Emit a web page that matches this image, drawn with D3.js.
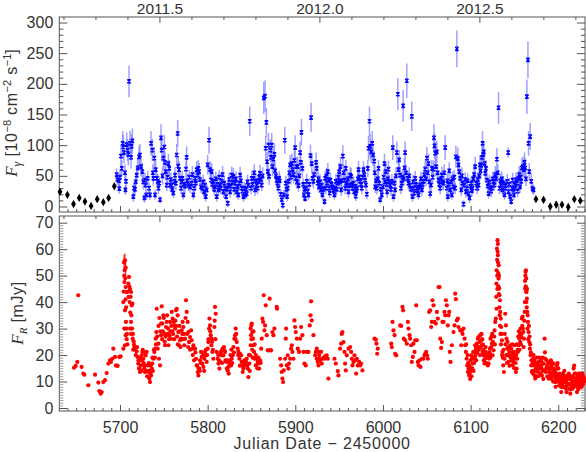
<!DOCTYPE html>
<html>
<head>
<meta charset="utf-8">
<script src="https://cdn.jsdelivr.net/npm/d3@7"></script>
<style>
  body { margin: 0; background: #fff; }
  svg { display: block; }
</style>
</head>
<body>
<svg id="chart" width="586" height="452"></svg>
<script>
// --- data ---
// weekly LAT points, black diamonds: [JD-2450000, flux, err]
const weeklyPoints = [
  [5631.5,24,4],[5640,19,4],[5647,4,3],[5653.5,14,4],[5660,8,3],[5667,1,4],[5674,12,4],[5681,7,4],[5687,14,4],[5693.5,33,5],
  [6174.5,12,3],[6183.2,11,3],[6190.9,0,5],[6197.7,3,6],[6204.2,3,4],[6211.4,-1,6],[6218.3,12,3],[6225.1,9.5,3]
];

// daily LAT points, blue crosses: [JD-2450000, flux (1e-8 cm-2 s-1), err]
const gammaPoints = [
  [5696.2,52,10],[5697,44,10],[5698.9,42,10],[5699.2,29,8],[5700,48,12],[5701.1,82,18],[5702,62,14],[5703,103,20],[5703.8,97,20],[5704.5,88,18],
  [5705.7,55,14],[5706.2,27,8],[5706.8,41,12],[5707.6,101,20],[5708.7,92,18],[5709.5,85,18],[5710.3,204,26],[5711.4,103,20],[5712.6,80,18],[5713.2,98,20],
  [5714.1,107,20],[5715.2,16,8],[5716,30,10],[5717.1,28,10],[5717.9,40,12],[5719,51,14],[5720.2,63,16],[5721.7,81,18],[5722.8,84,18],[5724,65,16],
  [5725.5,57,14],[5726.6,40,12],[5727.8,14,8],[5728.5,43,12],[5729.3,35,10],[5730.1,19,8],[5731.6,46,12],[5733.1,30,10],[5734.2,19,8],[5735.4,103,20],
  [5736.9,92,18],[5737.5,55,14],[5738.1,46,12],[5739.2,79,18],[5740,19,8],[5740.7,60,14],[5741.9,46,12],[5743,41,12],[5743.8,30,10],[5744.8,38,12],
  [5745.7,11,6],[5746.8,112,22],[5747.6,92,18],[5748.5,50,14],[5749.5,79,18],[5750.6,97,20],[5751.4,72,16],[5752.1,57,14],[5753.3,35,10],[5754.2,48,12],
  [5755.2,70,16],[5756.3,62,14],[5757.1,35,10],[5758,44,12],[5759,35,10],[5759.7,27,10],[5760.9,22,8],[5762,41,12],[5762.8,51,14],[5763.8,38,12],
  [5764.7,84,18],[5765.8,119,22],[5766.5,66,16],[5767.3,60,14],[5768.5,46,12],[5769.6,30,10],[5770.4,40,12],[5771.2,46,12],[5772.3,19,8],[5773.2,36,10],
  [5774.2,33,10],[5775.3,61,14],[5776,80,18],[5776.6,42,12],[5778,35,10],[5779,48,12],[5780,32,10],[5781.8,38,12],[5782.6,52,14],[5783.7,19,8],
  [5784.5,30,10],[5785.6,46,12],[5786.4,38,12],[5787.5,60,14],[5788.7,51,14],[5789.4,62,14],[5790.2,57,14],[5791.3,44,12],[5792.5,32,10],[5794,30,10],
  [5795,40,12],[5795.9,24,10],[5797,35,10],[5797.8,16,8],[5798.9,27,10],[5800,68,16],[5801.6,108,22],[5802.7,60,14],[5803.9,43,12],[5804.6,57,14],
  [5805.5,36,10],[5806.5,41,12],[5807.5,28,10],[5808.4,32,10],[5809.3,45,12],[5810.3,16,8],[5811.2,36,10],[5812.3,27,10],[5813.2,48,12],[5814.2,35,10],
  [5815,30,10],[5816,41,12],[5817,52,14],[5818,24,10],[5819,38,12],[5819.9,30,10],[5821,16,8],[5822,28,10],[5822.9,5,6],[5823.7,35,10],
  [5824.6,44,12],[5825.6,24,10],[5826.5,33,10],[5827.5,51,14],[5828.4,40,12],[5829.4,49,14],[5830.3,28,10],[5831.3,38,12],[5832.2,45,12],[5833.2,24,10],
  [5834.2,32,10],[5835.1,19,8],[5836,38,12],[5837,51,14],[5838,42,12],[5838.9,30,10],[5839.8,25,10],[5840.8,16,8],[5841.8,30,10],[5842.7,19,8],
  [5843.6,28,10],[5844.6,21,8],[5845.5,40,12],[5846.5,35,10],[5848,139,24],[5849.5,30,10],[5850.3,46,12],[5851.2,36,10],[5852.2,46,12],[5853.2,55,14],
  [5854.1,27,10],[5855,42,12],[5856,35,10],[5857,30,10],[5857.9,41,12],[5858.8,48,12],[5859.8,54,14],[5860.7,44,12],[5861.7,35,10],[5862.7,50,14],
  [5864,177,26],[5865.5,180,26],[5866.2,95,20],[5867,137,24],[5867.8,73,16],[5868.6,57,14],[5869.4,100,20],[5870.1,49,14],[5871.6,92,18],[5872.3,80,18],
  [5873.1,100,20],[5874,65,16],[5875,77,18],[5876.2,85,18],[5876.9,58,14],[5877.8,50,14],[5878.8,43,12],[5879.7,38,12],[5880.7,30,10],[5881.5,46,12],
  [5882.3,42,12],[5883.4,20,8],[5884.5,11,6],[5885.7,2,6],[5886.8,19,8],[5888,108,22],[5889.1,38,12],[5889.9,28,10],[5890.6,16,8],[5891.4,30,10],
  [5892.2,41,12],[5893.2,55,14],[5894.1,68,16],[5895,48,12],[5896,70,16],[5897,60,14],[5897.9,52,14],[5898.9,75,16],[5899.8,96,20],[5900.6,46,12],
  [5901.3,65,16],[5902.1,40,12],[5902.8,65,16],[5903.7,34,10],[5904.6,50,14],[5905.5,88,18],[5906.2,72,16],[5907,121,22],[5908.1,62,14],[5909,36,10],
  [5909.7,19,8],[5910.5,28,10],[5911.2,13,6],[5912.2,30,10],[5913.1,41,12],[5914,25,10],[5915,19,8],[5916,36,10],[5917.3,83,18],[5918,145,24],
  [5918.8,70,16],[5919.6,46,12],[5920.7,41,12],[5921.6,52,14],[5923.7,72,16],[5924.5,62,14],[5925.6,38,12],[5926.4,45,12],[5927.2,32,10],[5928.3,40,12],
  [5929.4,27,10],[5930.2,35,10],[5931,19,8],[5932,28,10],[5933.3,8,6],[5934,46,12],[5934.8,30,10],[5935.5,49,14],[5936.3,38,12],[5937.1,57,14],
  [5937.8,44,12],[5938.6,30,10],[5939.3,22,8],[5940.1,43,12],[5941.2,36,10],[5942.4,32,10],[5943.5,26,10],[5944.7,19,8],[5945.4,30,10],[5946.2,41,12],
  [5947.3,28,10],[5948.5,38,12],[5949.2,48,12],[5950,57,14],[5950.8,40,12],[5951.5,65,16],[5952.3,27,10],[5953,42,12],[5954.2,82,18],[5955.1,55,14],
  [5956.1,43,12],[5956.9,30,10],[5957.6,62,14],[5958.3,38,12],[5959.1,35,10],[5960,45,12],[5960.7,24,10],[5961.6,34,10],[5962.6,51,14],[5963.7,49,14],
  [5964.4,36,10],[5965.2,30,10],[5966.4,38,12],[5967.5,24,10],[5968.2,33,10],[5969,17,8],[5969.8,26,10],[5970.5,30,10],[5971.3,45,12],[5972.1,60,14],
  [5973,48,12],[5974,41,12],[5975,36,10],[5975.9,30,10],[5976.8,48,12],[5977.8,60,14],[5978.7,52,14],[5979.7,43,12],[5980.6,35,10],[5981.6,20,8],
  [5982.7,62,14],[5983.5,95,20],[5984.6,139,24],[5985.4,98,20],[5986.5,89,18],[5987.7,103,20],[5988.8,84,18],[5990,74,16],[5990.6,55,14],[5991.1,32,10],
  [5992,42,12],[5993,30,10],[5994,45,12],[5994.9,62,14],[5995.8,38,12],[5996.8,11,6],[5997.7,28,10],[5998.7,19,8],[5999.8,32,10],[6000.7,48,12],
  [6001.7,70,16],[6002.5,40,12],[6003.3,57,14],[6004.1,36,10],[6004.8,24,10],[6005.6,45,12],[6006.3,61,14],[6007.2,40,12],[6008.2,35,10],[6009.2,28,10],
  [6010.1,41,12],[6011.2,96,20],[6012,16,8],[6012.9,38,12],[6013.9,27,10],[6014.8,50,14],[6015.8,88,18],[6017,183,26],[6017.7,60,14],[6018.5,76,16],
  [6019.6,51,14],[6020.5,30,10],[6021.5,38,12],[6022.3,48,12],[6023,164,26],[6023.8,45,12],[6024.6,63,16],[6025.3,88,18],[6026.3,55,14],[6027.2,205,28],
  [6028.4,46,12],[6029.1,38,12],[6030,50,14],[6031,35,10],[6032,28,10],[6032.9,147,24],[6033.7,16,8],[6034.5,40,12],[6035.2,30,10],[6036,22,8],
  [6036.8,46,12],[6037.7,36,10],[6038.7,30,10],[6039.6,26,10],[6040.6,19,8],[6041.5,32,10],[6042.5,35,10],[6043.4,45,12],[6044.4,27,10],[6045.3,36,10],
  [6046.3,41,12],[6047.2,52,14],[6048.2,61,14],[6049.1,45,12],[6050.1,79,18],[6051,55,14],[6052,70,16],[6053,40,12],[6053.9,21,8],[6054.8,35,10],
  [6055.8,62,14],[6056.7,48,12],[6057.7,61,14],[6058.2,112,22],[6058.8,99,20],[6059.6,87,18],[6060.5,65,16],[6061.5,89,18],[6062.4,55,14],[6063.4,43,12],
  [6064.3,36,10],[6065.3,30,10],[6066.2,45,12],[6067.2,51,14],[6068.1,40,12],[6069.1,38,12],[6070,55,14],[6071,96,20],[6072.9,30,10],[6073.5,42,12],
  [6074,16,8],[6074.8,36,10],[6075.6,58,14],[6076.7,27,10],[6077.6,40,12],[6078.6,19,8],[6079.5,45,12],[6080.5,32,10],[6081.4,48,12],[6082.4,30,10],
  [6083.2,81,18],[6084.3,257,30],[6085.5,78,18],[6086.2,68,16],[6087,57,14],[6088.1,46,12],[6089.3,27,10],[6090,50,14],[6090.8,38,12],[6091.9,4,6],
  [6093,35,10],[6093.8,44,12],[6094.6,24,10],[6095.7,30,10],[6096.6,42,12],[6097.6,21,8],[6098.8,14,8],[6099.7,33,10],[6100.7,38,12],[6101.4,26,10],
  [6102.2,30,10],[6103.1,45,12],[6104.1,52,14],[6105.2,65,16],[6106.4,38,12],[6107.5,30,10],[6108.2,44,12],[6109,35,10],[6109.8,50,14],[6110.6,68,16],
  [6111.4,58,14],[6112.1,67,16],[6113,80,18],[6113.6,103,20],[6114.4,85,18],[6115.1,89,18],[6115.9,70,16],[6116.7,54,14],[6117.6,62,14],[6118.6,43,12],
  [6119.5,33,10],[6120.5,21,8],[6121.4,40,12],[6122.4,31,10],[6123.3,25,10],[6124.3,30,10],[6125.2,45,12],[6126.2,41,12],[6127.1,35,10],[6128.1,52,14],
  [6129,45,12],[6130,77,18],[6131,55,14],[6131.9,161,26],[6133,30,10],[6133.9,42,12],[6134.9,35,10],[6135.6,45,12],[6136.4,27,10],[6137.5,38,12],
  [6138.7,19,8],[6139.5,30,10],[6140.3,35,10],[6141.8,41,12],[6142.9,88,8],[6143.3,24,10],[6144.2,36,10],[6145.2,16,8],[6146.3,8,6],[6147.1,30,10],
  [6147.9,43,12],[6148.6,28,10],[6149.4,19,8],[6150.1,36,10],[6150.9,30,10],[6151.8,44,12],[6152.8,38,12],[6153.7,25,10],[6154.7,46,12],[6155.5,52,14],
  [6156.2,32,10],[6157,48,12],[6157.8,41,12],[6158.5,63,16],[6159.7,65,16],[6160.8,60,14],[6161.5,72,16],[6162.3,63,16],[6163.2,45,12],[6164.2,179,28],
  [6165.4,239,30],[6166.1,103,20],[6166.9,57,14],[6168,114,22],[6169.2,41,12],[6170.7,29,8],[6171.8,27,8]
];

// R-band flux, red dots, first season: [JD-2450000, mJy, err?]
const radio2011 = [
  [5647.5,15.2],[5649.4,15.9],[5651.3,17.4],[5652.4,42.6],[5656.2,15.5],[5658.1,13],[5659.3,12.6],[5663.9,8.6],[5671.5,12.6],[5675.3,9.6],
  [5676.4,6.4],[5677.9,5.4],[5679.1,6],[5681,9.8],[5682.9,10.5],[5684.8,13.2],[5686.7,16.8],[5688.6,18],[5689.7,17.4],[5691.2,18.6],
  [5692.4,22.4],[5694.3,19.3],[5695.4,16.1],[5697.3,15.9],[5699.2,19.3],[5700.8,19.5],[5703.8,22.4],[5704.6,55,3],[5705.7,55.8,2.5],[5706.5,53,3],
  [5705,47.6],[5706.5,45.7],[5707.6,43.8],[5703.8,40],[5705.7,36.9],[5706.8,32.5],[5705,30],[5706.5,27.5],[5705.7,23.7],[5707.6,26],
  [5704.2,44],[5704.8,50],[5705.3,52],[5706,49],[5706.3,41],[5707,38],[5707.3,30],[5708,28],[5708.5,24],[5709,44],
  [5709.5,47],[5710.3,49.5],[5709.8,42],[5710.6,46],[5711,40],[5711.4,45],[5711.8,36],[5712.2,42],[5712.6,43.8],[5713,35],
  [5714.1,39.4],[5713.3,38.8],[5712.6,32.5],[5711.4,30],[5712.6,28],[5713.8,30],[5714.5,26.2],[5714.8,28],[5715,22],[5715.6,25.2],
  [5716,24],[5716.4,23],[5717.1,22.4],[5718,20],[5719,21.4],[5719.5,23],[5720.2,19.3],[5720.9,16.8],[5721,18],[5721.7,14.9],
  [5722,15],[5722.8,13.6],[5723,19],[5724,16.1],[5724.3,14],[5724.7,18],[5725,20],[5725.5,21.2],[5726,22],[5726.6,18.6],
  [5727,17],[5727.8,14.9],[5728,16],[5728.5,13.6],[5729,21],[5729.3,19.9],[5730,14],[5730.4,21.2],[5731,12],[5731.6,16.1],
  [5732.3,13.6],[5732.8,17],[5733,14],[5733.5,11.1],[5734.2,9.8],[5734.8,13],[5735,16],[5735.4,12.3],[5736.2,14.9],[5736.9,16.8],
  [5737,19],[5737.5,14],[5738.1,18.6],[5738.6,22],[5739.2,21.2],[5739.8,19],[5740,22.4],[5740.7,26.2],[5741,24],[5741.5,28.7],
  [5741.9,37.5],[5742.5,27],[5743,22.4],[5743.8,24.3],[5744,31],[5744.5,18.6],[5745,34],[5745.7,16.1],[5746,29],[5746.8,27.5],
  [5747,32],[5747.6,38.4],[5748,26],[5748.3,31.9],[5749,29],[5749.5,35],[5750,34],[5750.6,28],[5751,25],[5751.4,23.7],
  [5752,27],[5752.5,30.6],[5753.3,32.5],[5753.8,35],[5754.4,28],[5754.8,30],[5755.2,23.7],[5756,26],[5756.3,27.5],[5757.1,32.5],
  [5757.6,29],[5758.2,26.2],[5758.6,31],[5759,36.3],[5759.5,29],[5760.1,33.8],[5760.6,28],[5761.3,32.5],[5761.8,26],[5762,31.2],
  [5762.8,30],[5763.2,33],[5763.9,36.9],[5764.2,31],[5764.7,37.5],[5765,27],[5765.8,35],[5766,24],[5766.6,28.7],[5767,29],
  [5767.3,23.7],[5768,31],[5768.5,25.6],[5769,23],[5769.6,26.2],[5770,26],[5770.4,29.3],[5771,28],[5771.5,32.5],[5772,26],
  [5772.3,30.6],[5773,28],[5773.4,23.7],[5774.2,26.2],[5774.8,34],[5775.3,40.7],[5776.1,36.3],[5776.6,28],[5777.2,32.5],[5777.8,23],
  [5778,28.7],[5778.8,24.9],[5779,25],[5779.9,26.8],[5780,22],[5781.1,29.3],[5781.8,25.6],[5782.6,22.4],[5783,20],[5783.7,23.7],
  [5784.5,18],[5785.6,22.4],[5786,21],[5786.8,18.6],[5787.5,16.1],[5788,16],[5788.7,13.6],[5789.4,12.3],[5789.8,15],[5790.2,14.9],
  [5791,14],[5791.3,18],[5792,17],[5792.5,21.2],[5793.2,19.3],[5794,16.8],[5794.6,20],[5795.1,15.5],[5796,14],[5796.3,18.6],
  [5797,21.2],[5797.8,19.9],[5798,22],[5798.9,17.4],[5799.4,20],[5800.1,22.4],[5800.8,24.9],[5801,26],[5801.6,30],[5802,33.8],
  [5802.7,31.2],[5803,29],[5803.5,27.5],[5804.3,23.7],[5804.6,26.2],[5805,25],[5805.4,21.2],[5806,22],[5806.5,18.6],[5807.7,30.6],
  [5808,33],[5808.4,38.2],[5808.8,26],[5809.2,35.6],[5810.3,21.2],[5811.5,18.6],[5812,20],[5812.3,16.8],[5813,18],[5813.4,14.9],
  [5814.2,17.4],[5815,21],[5815.3,19.9],[5816.1,21.8],[5816.6,17],[5817.2,22.4],[5818,19.9],[5818.6,23],[5819.1,21.8],[5819.9,21.2],
  [5820.3,18],[5821,17.4],[5821.8,14.9],[5822.3,18],[5822.9,14.2],[5823.7,15.5],[5824,13],[5824.8,16.8],[5825.6,18],[5826,20],
  [5826.7,16.1],[5827,22],[5827.5,18.6],[5828,17],[5828.6,19.9],[5829.4,23],[5830,21],[5830.5,26.2],[5831.3,27.5],[5831.8,26],
  [5832,30],[5832.6,28],[5833.2,24.9],[5834.3,22.4],[5834.8,20],[5835.1,21.2],[5836.2,18.6],[5836.7,16],[5837,20.5],[5838.1,19.9],
  [5838.9,17.4],[5839.5,16],[5840,13.6],[5840.8,14.9],[5841.9,16.8],[5842,18],[5842.7,16.1],[5843.8,17.4],[5844.6,18.6],[5845,16],
  [5845.7,14.9],[5846.5,11.7],[5847,20],[5847.6,16.8],[5848,14],[5848.4,19.9],[5849,30],[5849.2,23.7],[5849.5,27.5],[5849.9,31.2],
  [5850,26],[5850.3,31.9],[5850.8,22],[5851.1,28.7],[5851.5,19],[5851.8,26.2],[5852.2,29],[5852.6,23.7],[5853,21.2],[5853.3,18.6],
  [5853.6,24],[5854.9,16.1],[5855,20],[5856,18.6],[5856.6,15],[5857.1,17.4],[5857.9,16.8],[5858,19],[5858.7,14.9],[5859.8,18],
  [5860.5,17],[5861,22.4],[5861.7,26.2],[5862.5,33.8],[5863.2,32.5],[5864,42.6],[5864.8,29.3],[5865.5,31.2],[5866.3,38.8],[5867.4,27.5],
  [5868.6,21.8],[5869.3,21.8],[5870.8,41.3],[5871.6,21.8],[5872.4,21.8],[5873.9,28.7],[5875,27.5],[5876.2,30],[5878.8,38.2],[5879.2,37.5],
  [5882.6,18.6],[5883.8,16.1],[5884.5,13.6],[5885.3,11.1],[5886.1,9.8],[5886.8,14.2],[5888.4,18.6],[5889.1,26.2],[5889.5,30],[5890.3,16.1],
  [5891.4,19.9],[5892.2,14.9],[5892.9,16.8],[5894.1,18.6],[5895.2,22.4],[5896,23.7],[5896.7,21.2],[5897.9,18.6],[5899,33.1],[5899.8,30.6],
  [5900.5,28.7],[5901.7,26.2],[5902.8,22.4],[5904.3,21.2],[5905.5,26.2],[5906.6,30.6],[5908.1,27.5],[5909.3,21.2],[5910.4,16.8],[5911.9,16.1],
  [5913.1,21.2],[5915,21.2],[5916.5,31.2],[5917.3,35],[5918,40.3],[5918.8,33.1],[5920.7,27.5],[5922.6,19.9],[5924.5,22.4],[5926.4,21.2],
  [5927.5,18.6]
];

// R-band flux, second season
const radio2012 = [
  [5923.4,21.2],[5924.5,18.6],[5925.6,17.4],[5926.4,16.1],[5927.2,19.9],[5928.3,18],[5929.4,21.2],[5930.2,16.8],[5931,18.6],[5932.1,18.9],
  [5933.3,18.6],[5934,19.6],[5935.9,19.9],[5937.1,18.6],[5937.8,11.1],[5944.7,18.6],[5946.2,16.8],[5948.5,13.9],[5949.2,12.3],[5951.1,22.4],
  [5952.3,24.3],[5953,28],[5953.8,28.7],[5955,24.9],[5956.1,21.2],[5956.8,16.8],[5957.6,14.2],[5958.7,19.9],[5960.7,22.4],[5962.6,23],
  [5963.7,21.2],[5964.5,18.6],[5965.2,16.1],[5966.4,17.4],[5967.5,19.9],[5968.3,18],[5969.4,13],[5970.2,18.6],[5971.3,16.1],[5972.8,17.4],
  [5974,16.1],[5975.1,16.8],[5976.6,14.2],[5990.3,26.2],[5991.9,25.8],[5992.6,24.3],[5993.4,20.5],[5994.1,22.4],[6009.4,24.3],[6010.1,23],
  [6010.9,32.5],[6012,29.3],[6013.2,27.5],[6013.9,20.5],[6015.1,19.9],[6019.6,31.2],[6020.8,31],[6022.3,38.2],[6023,36.9],[6023.8,26.2],
  [6025.3,25.6],[6027.2,24.3],[6028.4,32.5],[6029.1,30],[6030.3,27.5],[6031,26.2],[6032.2,23.7],[6032.9,17.4],[6034.1,19.3],[6034.8,24.3],
  [6036,21.2],[6036.8,25.6],[6037.9,38.8],[6038.7,25.6],[6039.8,17.4],[6040.6,16.1],[6041.7,18],[6042.8,15.5],[6044.4,18.6],[6046.3,18.6],
  [6047.4,19.9],[6048.2,20.5],[6049.3,21.2],[6050.4,19.9],[6051.2,18.6],[6052.7,36.3],[6053.9,36.9],[6055,30.6],[6055.8,32.5],[6056.5,40.7],
  [6057.7,38.8],[6058.8,32.5],[6060.3,31.9],[6061.5,36.3],[6062.6,33.8],[6063.4,45.7],[6064.5,45.7],[6065.3,26.2],[6066.4,22.7],[6067.2,24.9],
  [6067.9,32.5],[6069.1,32.5],[6070.2,36.3],[6071,35],[6071.8,40.7],[6072.9,38.8],[6074,31.2],[6074.8,35],[6075.6,36.3],[6076.3,21.2],
  [6077.1,17.4],[6078.6,23.7],[6080.5,28.7],[6081.7,31.2],[6082.4,43.2],[6083.2,41.1],[6084.3,33.1],[6085.5,33.8],[6086.2,30.6],[6088.1,29.3],
  [6089.3,23.7],[6090,29.3],[6090.8,28],[6091.9,30],[6093.1,26.2],[6093.8,23.7],[6094.6,21.2],[6095,24],[6095.4,18.6],[6096.1,16.1],
  [6096.5,20],[6096.9,13.6],[6097.2,17],[6097.6,14.9],[6098,16],[6098.4,12.3],[6098.8,13],[6099.2,15.5],[6099.5,11],[6099.9,18],
  [6100.3,14],[6100.7,19.9],[6101,12],[6101.5,18.6],[6101.8,15],[6102.2,16.8],[6102.6,19],[6103,21.2],[6103.4,14],[6103.7,18.6],
  [6104.1,17],[6104.5,21.2],[6104.8,19],[6105.2,23.7],[6105.6,20],[6106,22.4],[6106.4,18],[6107.1,24.3],[6107.5,21],[6108.3,26.2],
  [6108.7,23],[6109,26.8],[6109.5,22],[6110.2,24.9],[6110.6,20],[6111,27.5],[6111.5,23],[6112.1,25.6],[6112.5,28],[6112.9,23.7],
  [6113.3,26],[6113.6,21.2],[6114,24],[6114.4,19.9],[6114.7,22],[6115.1,18],[6115.5,21],[6115.9,16.8],[6116.3,20],[6116.7,18.6],
  [6117,23],[6117.4,21.2],[6118,17],[6118.6,19.9],[6119,19],[6119.7,16.1],[6120,20],[6120.5,16.8],[6121.2,18.6],[6121.6,21],
  [6122,22.4],[6122.4,19],[6122.7,26.2],[6123.1,20],[6123.5,23],[6123.9,27],[6124.3,24.3],[6124.6,28],[6125,19.9],[6125.4,25],
  [6126.2,21.8],[6126.6,24],[6127,27],[6127.3,29.3],[6127.7,24],[6128.1,32.5],[6128.8,33.8],[6129.2,42],[6129.4,47],[6129.6,37.5],
  [6129.7,52],[6130,60.2],[6130.2,56],[6130.4,50],[6130.5,45],[6130.7,63.4],[6130.9,59],[6131.1,62],[6131.1,57.7],[6131.3,55],
  [6131.5,51],[6131.7,46],[6131.9,53.9],[6131.9,48.9],[6132.2,43],[6132.4,50],[6132.6,45.1],[6132.8,38],[6133,42.6],[6133.2,35],
  [6133.4,40.7],[6133.6,31],[6133.8,36.3],[6134.1,28],[6134.5,33.8],[6134.7,24],[6134.9,30.6],[6135.3,28],[6135.7,25.6],[6135.9,20],
  [6136.4,21.2],[6136.7,19],[6137.2,16.1],[6137.5,22],[6138,13.6],[6138.7,18.6],[6139,28],[6139.5,35.6],[6139.8,24],[6140.3,31.2],
  [6140.6,20],[6141,26.2],[6141.4,17],[6141.8,22.4],[6142.1,25],[6142.5,19.9],[6142.9,23],[6143.3,17.4],[6143.7,20],[6144.1,21.2],
  [6144.5,16],[6145.2,23.7],[6145.6,19],[6146.3,22.4],[6146.7,18],[6147.1,19.9],[6147.5,24],[6147.9,16.1],[6148.2,21],[6148.6,17.4],
  [6149,19],[6149.4,21.2],[6149.8,15],[6150.1,23.7],[6150.5,20],[6150.9,18.6],[6151.3,17],[6151.7,13.6],[6152,20],[6152.4,14.9],
  [6152.8,24],[6153.2,18.6],[6153.5,22],[6153.9,21.2],[6154.3,27],[6154.7,23.7],[6155,29],[6155.5,26.2],[6155.8,22],[6156.2,28],
  [6156.6,24.9],[6157,30],[6157.4,24],[6157.8,26.8],[6158.1,28],[6158.5,33.8],[6158.9,31],[6159.3,34.5],[6159.6,30],[6160,28.7],
  [6160.4,23],[6160.8,26.2],[6161.2,33],[6161.6,36.3],[6161.9,40],[6162.1,48],[6162.3,45.1],[6162.5,50],[6162.7,51.4],[6162.9,46],
  [6163.1,52],[6163.3,44],[6163.5,48.9],[6163.6,40],[6163.8,43.8],[6164,38],[6164.2,41.3],[6164.4,45],[6164.6,36.3],[6164.8,30],
  [6165.1,35],[6165.4,32.5],[6165.8,26],[6166.1,28.7],[6166.5,31],[6166.9,24.9],[6167.2,27],[6167.6,22.4],[6167.9,24],[6168.4,19.9],
  [6168.8,21],[6169.2,16.1],[6169.5,18],[6169.9,13.6],[6170.3,14],[6170.7,16.8],[6171.1,13],[6171.5,18.6],[6171.8,20],[6172.2,16.1],
  [6172.6,18],[6173,12.3],[6173.4,14],[6173.7,11.1],[6174.1,17],[6174.5,14.9],[6174.9,12],[6175.3,16.8],[6175.6,19],[6176,16.1],
  [6176.4,15],[6176.8,13.6],[6177.1,12],[6177.5,17.4],[6177.9,16],[6178.3,14.9],[6178.7,19],[6179.4,15.5],[6179.8,13],[6180.2,18],
  [6180.6,16.1],[6181,15],[6181.3,12.3],[6181.7,17],[6182.1,14.2],[6182.5,19],[6182.9,11],[6183.2,16.8],[6183.6,14],[6184.4,26.2],
  [6184.8,21],[6185.2,18.6],[6185.9,13.6],[6186.3,15],[6186.7,18],[6187.1,16.1],[6187.5,12],[6188.2,14.9],[6188.6,17],[6189,11.1],
  [6189.4,15],[6189.7,13.6],[6190.1,12],[6190.5,15],[6190.9,17.4],[6191.3,13],[6191.6,18],[6192,16.1],[6192.4,11],[6192.8,13.6],
  [6193.1,17],[6193.5,14.9],[6193.9,12],[6194.3,10],[6194.7,16.8],[6195.1,15],[6195.5,13],[6195.8,12.3],[6196.2,14],[6196.6,9.8],
  [6197,8],[6197.3,11.1],[6197.7,13],[6198.1,12],[6198.5,16.1],[6198.9,10],[6199.2,17],[6199.6,14.9],[6200,15],[6200.4,12.3],
  [6200.8,11],[6201.1,8.6],[6201.5,13],[6201.9,10],[6202.3,9.2],[6202.7,12],[6203,8],[6203.4,6],[6203.8,11],[6204.2,7.9],
  [6204.6,9],[6204.9,10.5],[6205.3,13],[6205.7,8],[6206.1,12.3],[6206.5,10],[6206.9,14],[6207.2,11.1],[6207.6,8],[6208,9.8],
  [6208.4,12],[6208.7,7.3],[6209.1,10],[6209.5,6],[6209.9,8.6],[6210.2,11],[6210.6,9],[6211,12.3],[6211.4,9],[6211.8,11.1],
  [6212.1,13],[6212.5,7.3],[6212.9,9],[6213.3,11],[6213.7,5.4],[6214,7],[6214.4,12],[6214.8,8.6],[6215.2,11],[6215.6,9.8],
  [6216,9],[6216.3,7.3],[6216.7,12],[6217.1,10],[6217.5,14.9],[6217.9,8],[6218.2,16],[6218.6,13],[6219,10],[6219.4,11.1],
  [6219.8,13],[6220.2,8.6],[6220.5,11],[6220.9,9],[6221.3,6],[6221.7,8],[6222,12],[6222.4,9.8],[6222.8,7],[6223.2,11.7],
  [6223.6,13],[6224,9],[6224.4,10.5],[6224.8,13],[6225.2,11.1],[6225.5,8],[6225.9,12],[6226.3,9.8],[6226.7,8],[6227.1,11.7],
  [6227.4,13],[6227.8,10.5],[6228.2,9],[6228.6,12],[6229.3,10],[6229.7,11]
];

const jdTicks = [5700, 5800, 5900, 6000, 6100, 6200];
const yearTicks = [2011.5, 2012.0, 2012.5];
const gammaTicks = [0, 50, 100, 150, 200, 250, 300];
const radioTicks = [0, 10, 20, 30, 40, 50, 60, 70];

// --- layout ---
const svg = d3.select("#chart");
const plotL = 59.3, plotR = 585;
const topBox = { y0: 17, y1: 212 };
const botBox = { y0: 216, y1: 411 };
const axisCol = "#555", textCol = "#333";
const sans = "'Liberation Sans', Arial, Helvetica, sans-serif";
const serif = "'Liberation Serif', 'Times New Roman', serif";

const x = d3.scaleLinear().domain([5630.75, 6230.5]).range([plotL, plotR]);
// calendar year of a JD-2450000 (2011.0 = 5562.5, 2012.0 = 5927.5)
const yearOf = d3.scaleLinear().domain([5562.5, 5927.5]).range([2011, 2012]);
const xYear = d3.scaleLinear().domain(x.domain().map(yearOf)).range(x.range());

const yG = d3.scaleLinear().domain([0, 300]).range([206.5, 22.5]);
const yR = d3.scaleLinear().domain([0, 70]).range([408, 222.7]);

function styleAxis(g) {
  g.select(".domain").remove();
  g.selectAll(".tick line").attr("stroke", axisCol).attr("stroke-width", 1);
  g.attr("font-size", 16).attr("font-family", sans);
  g.selectAll(".tick text").attr("fill", textCol);
}

function drawAxis(gen, tx, ty, tickCol) {
  const g = svg.append("g").attr("transform", `translate(${tx},${ty})`).call(gen);
  styleAxis(g);
  if (tickCol) g.selectAll(".tick line").attr("stroke", tickCol);
  return g;
}

function frame(box, yScale, majors, minorStep, labelled, minorCol) {
  // panel outline
  svg.append("rect")
    .attr("x", plotL).attr("y", box.y0)
    .attr("width", plotR - plotL).attr("height", box.y1 - box.y0)
    .attr("fill", "none").attr("stroke", axisCol).attr("stroke-width", 1);

  // x (JD) ticks along the bottom
  const jdMinor = d3.range(5640, 6231, 10).filter(v => jdTicks.indexOf(v) < 0);
  drawAxis(d3.axisBottom(x).tickValues(jdMinor).tickSize(-3).tickFormat(""), 0, box.y1);
  drawAxis(d3.axisBottom(x).tickValues(jdTicks).tickSize(-6).tickPadding(10.5)
    .tickFormat(labelled ? d3.format("d") : ""), 0, box.y1);

  // calendar year ticks along the top
  const yrMinor = d3.range(20112, 20129).map(v => v / 10).filter(v => yearTicks.indexOf(v) < 0);
  drawAxis(d3.axisTop(xYear).tickValues(yrMinor).tickSize(-3).tickFormat(""), 0, box.y0);
  const yg = drawAxis(d3.axisTop(xYear).tickValues(yearTicks).tickSize(-6).tickPadding(3.5)
    .tickFormat(box === topBox ? d3.format(".1f") : ""), 0, box.y0);
  yg.attr("font-size", 15.5);

  // y ticks, both sides
  const [lo, hi] = [majors[0], majors[majors.length - 1]];
  const minor = d3.range(lo, hi + 0.001, minorStep).filter(v => majors.indexOf(v) < 0);
  drawAxis(d3.axisLeft(yScale).tickValues(minor).tickSize(-4).tickFormat(""), plotL, 0, minorCol);
  drawAxis(d3.axisRight(yScale).tickValues(minor).tickSize(-4).tickFormat(""), plotR, 0, minorCol);
  drawAxis(d3.axisLeft(yScale).tickValues(majors).tickSize(-8).tickPadding(6).tickFormat(d3.format("d")), plotL, 0);
  drawAxis(d3.axisRight(yScale).tickValues(majors).tickSize(-8).tickFormat(""), plotR, 0);
}

frame(topBox, yG, gammaTicks, 10, false, axisCol);
frame(botBox, yR, radioTicks, 1, true, "#9a9a9a");

// --- gamma panel ---
const gamma = svg.append("g");
gamma.selectAll("line.gerr").data(gammaPoints).join("line")
  .attr("class", "gerr")
  .attr("x1", d => x(d[0])).attr("x2", d => x(d[0]))
  .attr("y1", d => yG(d[1] - d[2])).attr("y2", d => yG(d[1] + d[2]))
  .attr("stroke", "#7878ff").attr("stroke-opacity", 0.7).attr("stroke-width", 1.5);

const s = 1.8;
gamma.selectAll("path.gx").data(gammaPoints).join("path")
  .attr("class", "gx")
  .attr("transform", d => `translate(${x(d[0])},${yG(d[1])})`)
  .attr("d", `M${-s},${-s}L${s},${s}M${-s},${s}L${s},${-s}M${-s},${-s}H${s}M${-s},${s}H${s}`)
  .attr("fill", "none").attr("stroke", "#0000ff").attr("stroke-width", 1.1);

gamma.selectAll("line.werr").data(weeklyPoints).join("line")
  .attr("class", "werr")
  .attr("x1", d => x(d[0])).attr("x2", d => x(d[0]))
  .attr("y1", d => yG(d[1] - d[2])).attr("y2", d => yG(d[1] + d[2]))
  .attr("stroke", "#000").attr("stroke-width", 1);

gamma.selectAll("path.wd").data(weeklyPoints).join("path")
  .attr("class", "wd")
  .attr("transform", d => `translate(${x(d[0])},${yG(d[1])})`)
  .attr("d", d3.symbol(d3.symbolDiamond, 20))
  .attr("fill", "#000");

// --- optical panel ---
const radioPoints = radio2011.concat(radio2012);
const optical = svg.append("g");
optical.selectAll("line.rerr").data(radioPoints.filter(d => d[2])).join("line")
  .attr("class", "rerr")
  .attr("x1", d => x(d[0])).attr("x2", d => x(d[0]))
  .attr("y1", d => yR(d[1] - d[2])).attr("y2", d => yR(d[1] + d[2]))
  .attr("stroke", "#ff0000").attr("stroke-width", 1);

optical.selectAll("circle").data(radioPoints).join("circle")
  .attr("cx", d => x(d[0])).attr("cy", d => yR(d[1]))
  .attr("r", 2.1).attr("fill", "#ff0000");

// --- axis titles ---
const gt = svg.append("text")
  .attr("transform", "translate(17,113) rotate(-90)")
  .attr("text-anchor", "middle").attr("font-size", 16).attr("fill", textCol)
  .attr("font-family", sans);
gt.append("tspan").attr("font-family", serif).attr("font-style", "italic").attr("font-size", 17).text("F");
gt.append("tspan").attr("font-family", serif).attr("font-style", "italic").attr("font-size", 12).attr("dy", 4).text("γ");
gt.append("tspan").attr("dy", -4).attr("letter-spacing", 0.6).text(" [10");
gt.append("tspan").attr("font-size", 11).attr("dy", -6).text("−8");
gt.append("tspan").attr("dy", 6).attr("letter-spacing", 0.6).text(" cm");
gt.append("tspan").attr("font-size", 11).attr("dy", -6).text("−2");
gt.append("tspan").attr("dy", 6).attr("letter-spacing", 0.6).text(" s");
gt.append("tspan").attr("font-size", 11).attr("dy", -6).text("−1");
gt.append("tspan").attr("dy", 6).text("]");

const rt = svg.append("text")
  .attr("transform", "translate(23,313) rotate(-90)")
  .attr("text-anchor", "middle").attr("font-size", 16).attr("fill", textCol)
  .attr("font-family", sans);
rt.append("tspan").attr("font-family", serif).attr("font-style", "italic").attr("font-size", 17).text("F");
rt.append("tspan").attr("font-family", serif).attr("font-style", "italic").attr("font-size", 11).attr("dy", 4).text("R");
rt.append("tspan").attr("dy", -4).attr("letter-spacing", 0.6).text(" [mJy]");

svg.append("text")
  .attr("x", (plotL + plotR) / 2).attr("y", 448.5)
  .attr("text-anchor", "middle").attr("font-size", 16).attr("letter-spacing", 0.8)
  .attr("font-family", sans).attr("fill", textCol)
  .text("Julian Date − 2450000");
</script>
</body>
</html>
